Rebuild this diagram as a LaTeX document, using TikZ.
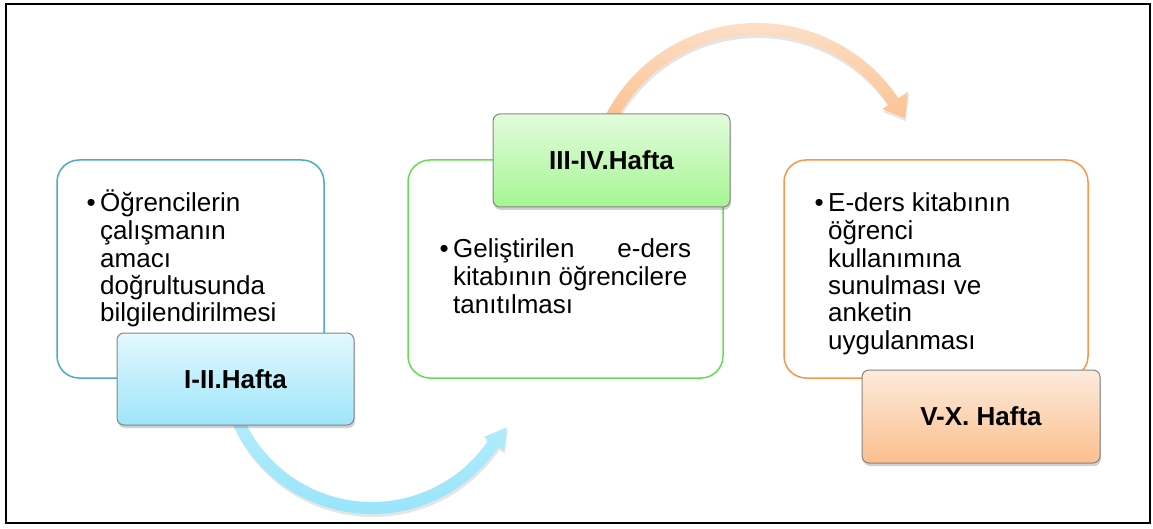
\documentclass[tikz,border=0pt]{standalone}
\usepackage{fontspec}
\setmainfont{Liberation Sans}
\usetikzlibrary{shadows,calc}
\definecolor{bline}{HTML}{4BACC6}
\definecolor{gline}{HTML}{66DD4D}
\definecolor{oline}{HTML}{F79646}
\definecolor{labgray}{HTML}{858585}
\definecolor{btop}{HTML}{E2F8FE}
\definecolor{bbot}{HTML}{9FE5FA}
\definecolor{gtop}{HTML}{E3FCDD}
\definecolor{gbot}{HTML}{A5F591}
\definecolor{otop}{HTML}{FDEBDD}
\definecolor{obot}{HTML}{FBBF8D}
\definecolor{barrtop}{HTML}{B5EDFC}
\definecolor{barrbot}{HTML}{94E3FA}
\definecolor{oarrtop}{HTML}{FDE6D4}
\definecolor{oarrbot}{HTML}{FBC08E}
\newcommand{\bulletmark}{\leavevmode\llap{•\hspace{4.5pt}}}
\begin{document}
\begin{tikzpicture}[x=1pt,y=1pt,
  outbox/.style={draw, line width=1.5pt, rounded corners=22pt, fill=white, inner sep=0pt, minimum height=218pt},
  labbox/.style={draw=labgray, line width=1pt, rounded corners=7pt, inner sep=0pt,
     minimum width=237pt, minimum height=92pt,
     font=\fontsize{26}{28}\selectfont\bfseries,
     drop shadow={shadow xshift=1pt, shadow yshift=-3pt, fill=black!60, opacity=0.3}},
  bodytext/.style={anchor=base west, inner sep=0pt},
  arrshadow/.style={fill=black, opacity=0.10}
]
\useasboundingbox (0,0) rectangle (1153,528);
% frame
\node[draw, line width=2pt, inner sep=0pt, minimum width=1144pt, minimum height=519pt] (frame) at (578,264.5) {};
% outline boxes
\node[outbox, draw=bline, minimum width=267pt] (b1) at (190.5,259) {};
\node[outbox, draw=gline, minimum width=315pt] (b2) at (565.5,259) {};
\node[outbox, draw=oline, minimum width=304pt] (b3) at (936,259) {};
% arrows
\coordinate (bc) at (372,166.5);
\coordinate (oc) at (757,334.5);
\def\bluearrow{(200:152.5) arc[start angle=200,end angle=326,radius=152.5] -- (326:159) -- (334:150) -- (326:135) -- (326:140.5) arc[start angle=326,end angle=200,radius=140.5] -- cycle}
\def\orangearrow{(155:170.5) arc[start angle=155,end angle=34,radius=170.5] -- (34:182) -- (27:166) -- (34:151) -- (34:158.5) arc[start angle=34,end angle=155,radius=158.5] -- cycle}
\begin{scope}[shift={($(bc)+(1,-3)$)}]
  \fill[arrshadow] \bluearrow;
\end{scope}
\begin{scope}[shift={(bc)}]
  \shade[top color=barrtop, bottom color=barrbot] \bluearrow;
\end{scope}
\begin{scope}[shift={($(oc)+(1,-3)$)}]
  \fill[arrshadow] \orangearrow;
\end{scope}
\begin{scope}[shift={(oc)}]
  \shade[top color=oarrtop, bottom color=oarrbot] \orangearrow;
\end{scope}
% label boxes
\node[labbox, top color=btop, bottom color=bbot] (l1) at (235.5,149) {I-II.Hafta};
\node[labbox, top color=gtop, bottom color=gbot, minimum height=93pt] (l2) at (611.5,367.5) {III-IV.Hafta};
\node[labbox, top color=otop, bottom color=obot, minimum width=238pt, minimum height=93pt] (l3) at (981,111.5) {V-X. Hafta};
% body texts
\node[bodytext] (t1) at (100,316) {\parbox[t]{220pt}{\fontsize{26}{27.5}\selectfont\raggedright
  \bulletmark Öğrencilerin\\çalışmanın\\amacı\\doğrultusunda\\bilgilendirilmesi}};
\node[bodytext] (t2) at (453,270) {\parbox[t]{238pt}{\fontsize{26}{27.5}\selectfont
  \bulletmark Geliştirilen\hfill e-ders\\kitabının öğrencilere\\tanıtılması}};
\node[bodytext] (t3) at (828,316) {\parbox[t]{230pt}{\fontsize{26}{27.5}\selectfont\raggedright
  \bulletmark E-ders kitabının\\öğrenci\\kullanımına\\sunulması ve\\anketin\\uygulanması}};
\end{tikzpicture}
\end{document}
